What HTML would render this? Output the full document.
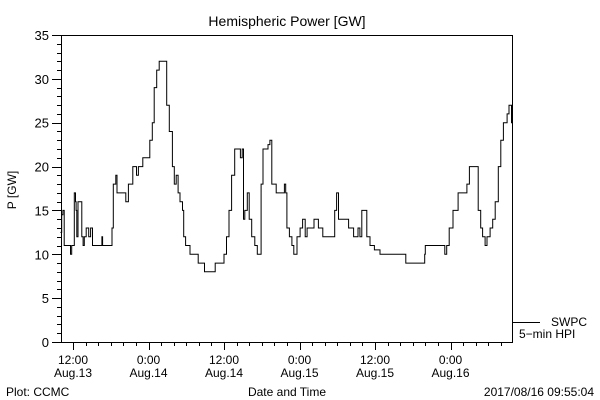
<!DOCTYPE html>
<html><head><meta charset="utf-8"><style>
html,body{margin:0;padding:0;background:#fff}
svg{display:block}
text{font-family:"Liberation Sans",sans-serif;fill:#000}
</style></head><body>
<svg id="chart" width="600" height="400" viewBox="0 0 600 400" xmlns="http://www.w3.org/2000/svg">
<rect width="600" height="400" fill="#fff"/>
<text x="287" y="26" font-size="14" text-anchor="middle">Hemispheric Power [GW]</text>
<text transform="translate(16,190) rotate(-90)" font-size="12" text-anchor="middle">P [GW]</text>
<g id="axes"></g>
<path id="series" fill="none" stroke="#000" stroke-width="1"/>
<line x1="512" y1="322.5" x2="540" y2="322.5" stroke="#000"/>
<text x="551" y="326" font-size="12">SWPC</text>
<text x="519" y="338" font-size="12">5−min HPI</text>
<text x="287" y="396" font-size="12" text-anchor="middle">Date and Time</text>
<text x="6" y="396" font-size="12">Plot: CCMC</text>
<text x="594" y="396" font-size="12" text-anchor="end">2017/08/16 09:55:04</text>
</svg>
<script>
// hours since 00:00 Aug 13
const times=[10.0,10.2,10.4,10.6,11.5,11.6,11.8,12.1,12.2,12.4,12.5,12.6,12.8,13.2,13.4,13.6,13.8,14.1,14.5,14.8,15.1,16.5,16.6,16.7,17.8,18.2,18.4,18.8,19.0,20.3,20.4,20.8,21.3,21.5,22.1,22.4,23.1,24.0,24.2,24.6,24.9,25.3,25.7,26.7,26.9,27.3,27.8,28.1,28.4,28.7,29.0,29.4,29.6,29.9,30.6,31.9,32.9,34.6,36.0,36.4,36.8,37.2,37.7,38.5,38.6,38.9,39.1,39.3,39.7,40.0,40.4,40.9,41.3,41.9,42.2,43.0,43.3,43.6,44.3,45.6,45.8,46.0,46.4,46.8,47.1,47.6,48.1,48.5,48.9,49.2,50.3,51.0,51.7,53.4,53.6,53.9,54.2,55.4,55.8,56.6,57.3,57.6,57.9,58.7,59.2,59.9,60.8,64.9,67.9,68.0,71.1,71.4,71.8,72.4,73.2,74.6,75.0,76.0,76.4,76.8,77.1,77.5,77.8,78.3,78.7,79.1,79.6,80.0,80.4,81.0,81.3,81.7];
const values=[12.5,14.5,15,11,11,10,11,11,17,16,15,12,16,16,12,11,12,13,12,13,11,11,12,11,11,13,18,19,17,17,16,18,18,20,19,20,21,21,23,25,29,31,32,32,27,24,20,18,19,17,16,15,12,11,10,9,8,9,10,12,15,19,22,22,21,22,14,15,17,14,12,11,10,18,22,22.5,23,18,17,18,17,13,12,11,10,12,13,14,12,13,14,13,12,12,15,17,14,14,13,12,13,12,15,12,11,10.5,10,9,10,11,10,11,13,15,17,18,20,20,15,13,12,11,12,13,14,16,20,23,25,26,27,25,24];
const yTicks=[0,5,10,15,20,25,30,35];
const xTickHours=[12,24,36,48,60,72];
const xTickTop=["12:00","0:00","12:00","0:00","12:00","0:00"];
const xTickBottom=["Aug.13","Aug.14","Aug.14","Aug.15","Aug.15","Aug.16"];

const L=61,R=512,T=35,B=342;
const xS=h=>73+(h-12)*(75.5/12);
const yS=v=>B-v*(B-T)/35;
const NS="http://www.w3.org/2000/svg";
const ax=document.getElementById('axes');
function mk(tag,attrs,txt){const e=document.createElementNS(NS,tag);for(const k in attrs)e.setAttribute(k,attrs[k]);if(txt!==undefined)e.textContent=txt;ax.appendChild(e);return e;}
const frame=mk('rect',{x:L+0.5,y:T+0.5,width:R-L,height:B-T,fill:'none',stroke:'#000'});


for(let v=0;v<=35;v++){
  const y=Math.round(yS(v))+0.5;
  const major=v%5===0;
  const t=mk('line',{x1:major?52:57,y1:y,x2:L,y2:y,stroke:'#000'});
  
  
}
yTicks.forEach(v=>{
  const t=mk('text',{x:49,y:yS(v)+5,'font-size':13,'text-anchor':'end'},String(v));
  
  
});
for(let h=10;h<=81;h+=2){
  const x=Math.round(xS(h))+0.5;
  if(x<L||x>R)continue;
  const major=h%12===0;
  const t=mk('line',{x1:x,y1:B,x2:x,y2:major?350:346,stroke:'#000'});
  
  
}
xTickHours.forEach((h,i)=>{
  const a=mk('text',{x:xS(h),y:364,'font-size':12,'text-anchor':'middle'},xTickTop[i]);
  
  
  const b=mk('text',{x:xS(h),y:377,'font-size':12,'text-anchor':'middle'},xTickBottom[i]);
  
  
});
let d='M'+xS(times[0]).toFixed(1)+','+yS(values[0]).toFixed(1);
for(let i=1;i<times.length;i++){
  d+=' H'+xS(times[i]).toFixed(1)+' V'+yS(values[i]).toFixed(1);
}
d+=' H'+R;
document.getElementById('series').setAttribute('d',d);
</script>
</body></html>
